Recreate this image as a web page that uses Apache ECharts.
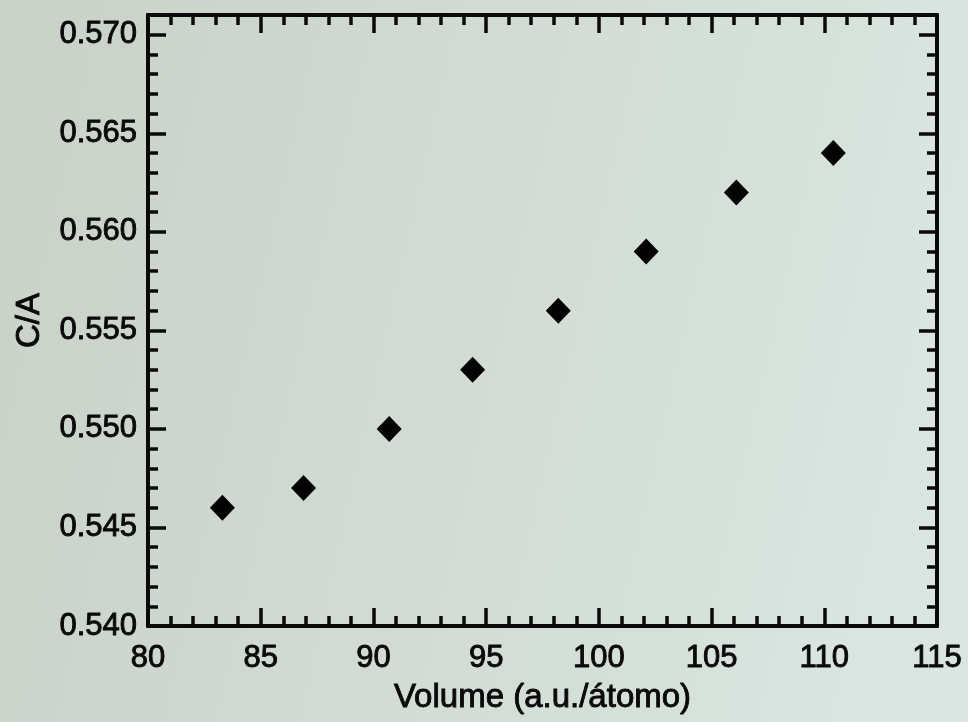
<!DOCTYPE html>
<html>
<head>
<meta charset="utf-8">
<script src="https://cdn.jsdelivr.net/npm/echarts@6/dist/echarts.min.js"></script>
<style>
html,body{margin:0;padding:0;}
#chart{width:968px;height:722px;}
</style>
</head>
<body>
<div id="chart"></div>
<script>
// Data
var volume = [83.3, 86.9, 90.7, 94.4, 98.2, 102.1, 106.1, 110.4];
var ratioCA = [0.546, 0.547, 0.550, 0.553, 0.556, 0.559, 0.562, 0.564];
var xTitle = 'Volume (a.u./átomo)';
var yTitle = 'C/A';

var points = volume.map(function (v, i) { return [v, ratioCA[i]]; });

var FONT = '"Liberation Sans", Arial, Helvetica, sans-serif';
var INK = '#0a0a0a';
var AXW = 4;
var txt = { fontFamily: FONT, color: INK, textBorderColor: INK, textBorderWidth: 0.9 };

function xAx(opts) {
  var base = {
    type: 'value', min: 80, max: 115, interval: 5,
    axisLine: { show: true, onZero: false, lineStyle: { color: INK, width: AXW } },
    axisTick: { show: true, inside: true, length: 18, lineStyle: { color: INK, width: 3.5 } },
    minorTick: { show: true, splitNumber: 5, length: 10, lineStyle: { color: INK, width: 3.5 } },
    splitLine: { show: false }, minorSplitLine: { show: false },
    axisLabel: { show: false }
  };
  return Object.assign(base, opts);
}
function yAx(opts, interval, len) {
  var base = {
    type: 'value', min: 0.540, max: 0.571, interval: interval,
    axisLine: { show: true, onZero: false, lineStyle: { color: INK, width: AXW } },
    axisTick: { show: true, inside: true, length: len, lineStyle: { color: INK, width: 3.5 } },
    splitLine: { show: false },
    axisLabel: { show: false }
  };
  return Object.assign(base, opts);
}

var chart = echarts.init(document.getElementById('chart'), null, { renderer: 'canvas' });
chart.setOption({
  backgroundColor: {
    type: 'linear', x: 0, y: 0, x2: 1, y2: 0.3,
    colorStops: [{ offset: 0, color: '#c9d1c8' }, { offset: 0.6, color: '#d3ddd6' }, { offset: 1, color: '#dae4e1' }]
  },
  animation: false,
  grid: { left: 148, right: 31, top: 15, bottom: 96 },
  xAxis: [
    xAx({
      position: 'bottom',
      name: xTitle, nameLocation: 'middle', nameGap: 55,
      nameTextStyle: Object.assign({ fontSize: 33 }, txt),
      axisLabel: Object.assign({ show: true, margin: 17, fontSize: 31,
        showMinLabel: true, showMaxLabel: true }, txt)
    }),
    xAx({ position: 'top' })
  ],
  yAxis: [
    yAx({
      position: 'left',
      name: yTitle, nameLocation: 'middle', nameGap: 102, nameRotate: 90,
      nameTextStyle: Object.assign({ fontSize: 33 }, txt),
      axisLabel: Object.assign({ show: true, margin: 11, fontSize: 31,
        showMaxLabel: false,
        formatter: function (v) { return v.toFixed(3); } }, txt)
    }, 0.005, 18),
    yAx({ position: 'left' }, 0.001, 10),
    yAx({ position: 'right' }, 0.005, 18),
    yAx({ position: 'right' }, 0.001, 10)
  ],
  series: [{
    type: 'scatter',
    xAxisIndex: 0, yAxisIndex: 0,
    symbol: 'diamond',
    symbolSize: [25, 26],
    itemStyle: { color: '#030303', opacity: 1 },
    data: points
  }]
});
</script>
</body>
</html>
